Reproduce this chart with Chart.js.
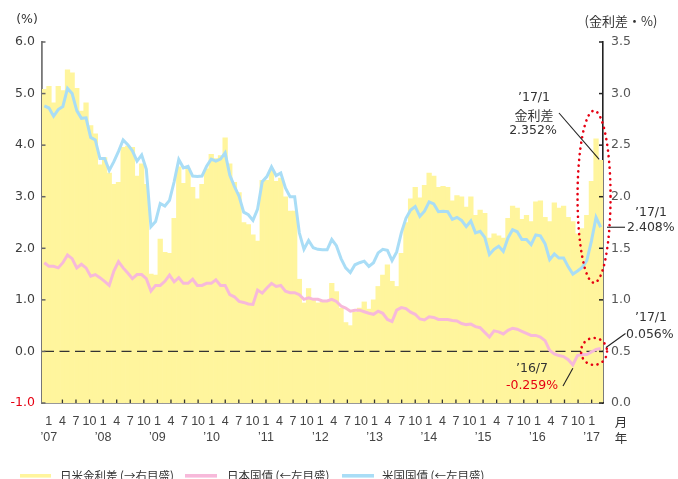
<!DOCTYPE html>
<html><head><meta charset="utf-8">
<script src="https://cdn.jsdelivr.net/npm/chart.js@4.4.1/dist/chart.umd.min.js"></script>
<style>html,body{margin:0;padding:0;background:#fff;overflow:hidden}canvas{display:block}</style>
</head><body>
<canvas id="c" width="678" height="479"></canvas>
<script>
// ---- data (monthly, 2007/1 - 2017/1) ----
const startYear = 2007, endYear = 2017;
const categories = [];
for (let y = startYear; y <= endYear; y++) {
  for (let m = 1; m <= 12; m++) {
    if (y === endYear && m > 1) break;
    categories.push(y + '/' + m);
  }
}
const tickMonths = ['1', '4', '7', '10'];
const tickYears = ['’07','’08','’09','’10','’11','’12','’13','’14','’15','’16','’17'];
const leftTicks = [-1, 0, 1, 2, 3, 4, 5, 6];
const rightTicks = [0, 0.5, 1, 1.5, 2, 2.5, 3, 3.5];

// US 10y treasury yield (%)
const usYield = [
  4.76, 4.72, 4.56, 4.69, 4.75, 5.10, 5.00, 4.67, 4.52, 4.53, 4.15, 4.10,
  3.74, 3.74, 3.51, 3.68, 3.88, 4.10, 4.01, 3.89, 3.69, 3.81, 3.53, 2.42,
  2.52, 2.87, 2.82, 2.93, 3.29, 3.72, 3.56, 3.59, 3.40, 3.39, 3.40, 3.59,
  3.73, 3.69, 3.73, 3.85, 3.42, 3.20, 3.01, 2.70, 2.65, 2.54, 2.76, 3.29,
  3.39, 3.58, 3.41, 3.46, 3.17, 3.00, 3.00, 2.30, 1.98, 2.15, 2.01, 1.98,
  1.97, 1.97, 2.17, 2.05, 1.80, 1.62, 1.53, 1.68, 1.72, 1.75, 1.65, 1.72,
  1.91, 1.98, 1.96, 1.76, 1.93, 2.30, 2.58, 2.74, 2.81, 2.62, 2.72, 2.90,
  2.86, 2.71, 2.72, 2.71, 2.56, 2.60, 2.54, 2.42, 2.53, 2.30, 2.33, 2.21,
  1.88, 1.98, 2.04, 1.94, 2.20, 2.36, 2.32, 2.17, 2.17, 2.07, 2.26, 2.24,
  2.09, 1.78, 1.89, 1.81, 1.81, 1.64, 1.50, 1.56, 1.63, 1.76, 2.14, 2.60,
  2.408
];
// Japan 10y government bond yield (%)
const jpYield = [
  1.72, 1.65, 1.65, 1.62, 1.72, 1.87, 1.80, 1.62, 1.69, 1.62, 1.46, 1.49,
  1.43, 1.36, 1.28, 1.56, 1.74, 1.62, 1.52, 1.41, 1.49, 1.49, 1.41, 1.17,
  1.28, 1.28, 1.36, 1.48, 1.35, 1.43, 1.32, 1.32, 1.40, 1.28, 1.28, 1.32,
  1.32, 1.39, 1.28, 1.28, 1.10, 1.06, 0.97, 0.95, 0.92, 0.91, 1.19, 1.13,
  1.23, 1.32, 1.26, 1.28, 1.17, 1.14, 1.14, 1.10, 1.01, 1.04, 1.01, 1.01,
  0.98, 0.98, 1.01, 0.97, 0.88, 0.84, 0.78, 0.80, 0.80, 0.77, 0.74, 0.72,
  0.78, 0.74, 0.62, 0.58, 0.80, 0.85, 0.83, 0.76, 0.72, 0.63, 0.61, 0.67,
  0.66, 0.62, 0.62, 0.62, 0.60, 0.59, 0.54, 0.52, 0.53, 0.48, 0.46, 0.37,
  0.28, 0.40, 0.38, 0.34, 0.41, 0.45, 0.43, 0.39, 0.35, 0.31, 0.31, 0.28,
  0.21, 0.02, -0.05, -0.08, -0.10, -0.16, -0.259, -0.08, -0.06, -0.06, -0.01, 0.04,
  0.056
];
// Japan-US yield spread (%, right axis)
const spread = [
  3.04, 3.07, 2.91, 3.07, 3.03, 3.23, 3.20, 3.05, 2.83, 2.91, 2.69, 2.61,
  2.31, 2.38, 2.23, 2.12, 2.14, 2.48, 2.49, 2.48, 2.20, 2.32, 2.12, 1.25,
  1.24, 1.59, 1.46, 1.45, 1.79, 2.29, 2.13, 2.27, 2.09, 1.98, 2.12, 2.27,
  2.41, 2.37, 2.40, 2.57, 2.32, 2.14, 2.04, 1.75, 1.73, 1.63, 1.57, 2.16,
  2.16, 2.26, 2.15, 2.18, 2.00, 1.86, 1.86, 1.20, 0.97, 1.11, 1.00, 0.97,
  0.99, 0.99, 1.16, 1.08, 0.92, 0.78, 0.75, 0.88, 0.92, 0.98, 0.91, 1.00,
  1.13, 1.24, 1.34, 1.18, 1.13, 1.45, 1.75, 1.98, 2.09, 1.99, 2.11, 2.23,
  2.20, 2.09, 2.10, 2.09, 1.96, 2.01, 2.00, 1.90, 2.00, 1.82, 1.87, 1.84,
  1.60, 1.64, 1.62, 1.60, 1.79, 1.91, 1.89, 1.78, 1.82, 1.76, 1.95, 1.96,
  1.80, 1.76, 1.94, 1.89, 1.91, 1.80, 1.76, 1.64, 1.69, 1.82, 2.15, 2.56,
  2.352
];
const seriesNames = ['日米金利差 (→右目盛)', '日本国債 (←左目盛)', '米国国債 (←左目盛)'];

// ---- styles ----
const YELLOW = '#FFF59D', PINK = '#F7B9DA', BLUE = '#A9DDF6', RED = '#E60012';
const NUMF = '"DejaVu Sans", "Liberation Sans", sans-serif';
const NARROWF = '"Liberation Sans Narrow", "Liberation Sans", sans-serif';
const JPF = '"Noto Sans CJK JP", sans-serif';
const TXT = '#333';

const xTickValues = [];
for (let v = 0; v < categories.length; v += 3) xTickValues.push(v);

function ellipse(ctx, cx, cy, rx, ry) {
  ctx.save();
  ctx.strokeStyle = RED; ctx.lineWidth = 2.6; ctx.lineCap = 'round';
  ctx.setLineDash([0.1, 5.6]);
  ctx.beginPath(); ctx.ellipse(cx, cy, rx, ry, 0, 0, Math.PI * 2); ctx.stroke();
  ctx.restore();
}
function line(ctx, x1, y1, x2, y2, color, w) {
  ctx.save(); ctx.strokeStyle = color || '#222'; ctx.lineWidth = w || 1.1;
  ctx.beginPath(); ctx.moveTo(x1, y1); ctx.lineTo(x2, y2); ctx.stroke(); ctx.restore();
}
function text(ctx, s, x, y, font, color, align) {
  ctx.save(); ctx.font = font; ctx.fillStyle = color || TXT;
  ctx.textAlign = align || 'center'; ctx.textBaseline = 'middle';
  ctx.fillText(s, x, y); ctx.restore();
}

const decor = {
  id: 'decor',
  afterDatasetDraw(chart, args) {
    if (args.index !== 0) return;
    const {ctx, chartArea} = chart;
    const y0 = chart.scales.y.getPixelForValue(0);
    ctx.save();
    ctx.strokeStyle = '#333'; ctx.lineWidth = 1.3; ctx.setLineDash([10, 5.5]);
    ctx.beginPath(); ctx.moveTo(chartArea.left + 2, y0); ctx.lineTo(chartArea.right, y0); ctx.stroke();
    ctx.restore();
  },
  afterDraw(chart) {
    const {ctx, chartArea: ca, scales} = chart;
    const sx = scales.x, sy = scales.y, sy2 = scales.y2, xt = scales.xt;
    // inward tick marks
    leftTicks.forEach(v => line(ctx, ca.left, sy.getPixelForValue(v), ca.left + 3.5, sy.getPixelForValue(v), '#666', 1.5));
    rightTicks.forEach(v => line(ctx, ca.right, sy2.getPixelForValue(v), ca.right - 4, sy2.getPixelForValue(v), '#222', 1.5));
    xTickValues.forEach(v => { if (v > 0) line(ctx, xt.getPixelForValue(v), ca.bottom, xt.getPixelForValue(v), ca.bottom - 3.5, '#333', 1.3); });

    // unit labels
    text(ctx, '(%)', 27, 19.5, '12.5px ' + NUMF, TXT);
    text(ctx, '(金利差・%)', 621, 21.5, '13px ' + JPF, TXT);
    text(ctx, '月', 621, 422, '12.5px ' + JPF, TXT);
    text(ctx, '年', 621, 438, '12.5px ' + JPF, TXT);

    // annotations
    const last = categories.length - 1;
    const xDec = sx.getPixelForValue(last - 1);
    ellipse(ctx, xDec - 2, sy2.getPixelForValue(2.0), 16.5, 86);
    ellipse(ctx, xDec - 2, sy.getPixelForValue(0), 13, 13.5);

    // spread 17/1
    text(ctx, '’17/1', 534, 98, '12.5px ' + NUMF, TXT);
    text(ctx, '金利差', 534, 115, '13px ' + JPF, TXT);
    text(ctx, '2.352%', 533, 131, '12.5px ' + NUMF, TXT);
    line(ctx, 559, 113, sx.getPixelForValue(last) - 1.5, sy2.getPixelForValue(spread[last]) - 1, '#222', 1.1);

    // US 17/1
    const yUS = sy.getPixelForValue(usYield[last]);
    text(ctx, '’17/1', 651, 213, '12.5px ' + NUMF, TXT);
    line(ctx, 607, yUS, 625, yUS, '#222', 1.1);
    text(ctx, '2.408%', 627, yUS + 1, '12.5px ' + NUMF, TXT, 'left');

    // JP 17/1
    text(ctx, '’17/1', 651, 317.5, '12.5px ' + NUMF, TXT);
    text(ctx, '0.056%', 626, 334.5, '12.5px ' + NUMF, TXT, 'left');
    line(ctx, 606, 347.5, 625.5, 333.5, '#222', 1.1);

    // JP 16/7
    text(ctx, '’16/7', 532, 369, '12.5px ' + NUMF, TXT);
    text(ctx, '-0.259%', 532, 386, '12.5px ' + NUMF, RED);
    const x167 = sx.getPixelForValue(114);
    line(ctx, 563, 386, x167, sy.getPixelForValue(jpYield[114]) + 3.5, '#222', 1.1);

    // legend
    const legendItems = [
      {color: YELLOW, x1: 20, x2: 51, tx: 60},
      {color: PINK, x1: 185, x2: 217, tx: 227},
      {color: BLUE, x1: 342, x2: 374, tx: 382}
    ];
    legendItems.forEach((it, i) => {
      line(ctx, it.x1, 475.8, it.x2, 475.8, it.color, 3.6);
      text(ctx, seriesNames[i], it.tx, 476, '11.5px ' + JPF, TXT, 'left');
    });
  }
};

Chart.defaults.font.family = NUMF;
new Chart(document.getElementById('c'), {
  type: 'bar',
  data: {
    labels: categories,
    datasets: [
      {type: 'bar', label: seriesNames[0], data: spread, xAxisID: 'x', yAxisID: 'y2',
       backgroundColor: YELLOW, borderWidth: 0, barPercentage: 1, categoryPercentage: 1, order: 3},
      {type: 'line', label: seriesNames[1], data: jpYield, xAxisID: 'x', yAxisID: 'y',
       borderColor: PINK, borderWidth: 3, pointRadius: 0, tension: 0, fill: false, order: 2},
      {type: 'line', label: seriesNames[2], data: usYield, xAxisID: 'x', yAxisID: 'y',
       borderColor: BLUE, borderWidth: 3, pointRadius: 0, tension: 0, fill: false, order: 1}
    ]
  },
  options: {
    responsive: false, animation: false, devicePixelRatio: 1,
    layout: {padding: {top: 42, left: 0, right: 0, bottom: 0}},
    plugins: {legend: {display: false}, tooltip: {enabled: false}},
    scales: {
      x: {type: 'category', offset: true, display: false},
      xt: {type: 'linear', position: 'bottom', min: 0, max: categories.length,
        afterFit: s => { s.height = 76; },
        afterBuildTicks: s => { s.ticks = xTickValues.map(v => ({value: v})); },
        grid: {display: false, drawTicks: false},
        border: {display: true, color: '#333', width: 1.6},
        ticks: {autoSkip: false, maxRotation: 0, padding: 10.5, color: '#444',
          font: {family: NARROWF, size: 12.5, lineHeight: 16 / 12.5},
          callback: (v) => [tickMonths[(v / 3) % 4], (v % 12 === 0) ? tickYears[v / 12] : '']}
      },
      y: {type: 'linear', position: 'left', min: -1, max: 6,
        afterFit: s => { s.width = 42; },
        afterBuildTicks: s => { s.ticks = leftTicks.map(v => ({value: v})); },
        grid: {display: false, drawTicks: false},
        border: {display: true, color: '#777', width: 1.8},
        ticks: {padding: 7, font: {family: NUMF, size: 12.5},
          color: c => (c.tick && c.tick.value === -1) ? RED : '#3c3c3c',
          callback: v => v.toFixed(1)}
      },
      y2: {type: 'linear', position: 'right', min: 0, max: 3.5,
        afterFit: s => { s.width = 75; },
        afterBuildTicks: s => { s.ticks = rightTicks.map(v => ({value: v})); },
        grid: {display: false, drawTicks: false},
        border: {display: true, color: '#222', width: 1.6},
        ticks: {padding: 8, font: {family: NUMF, size: 12.5}, color: '#555',
          callback: v => v.toFixed(1)}
      }
    }
  },
  plugins: [decor]
});
</script>
</body></html>
